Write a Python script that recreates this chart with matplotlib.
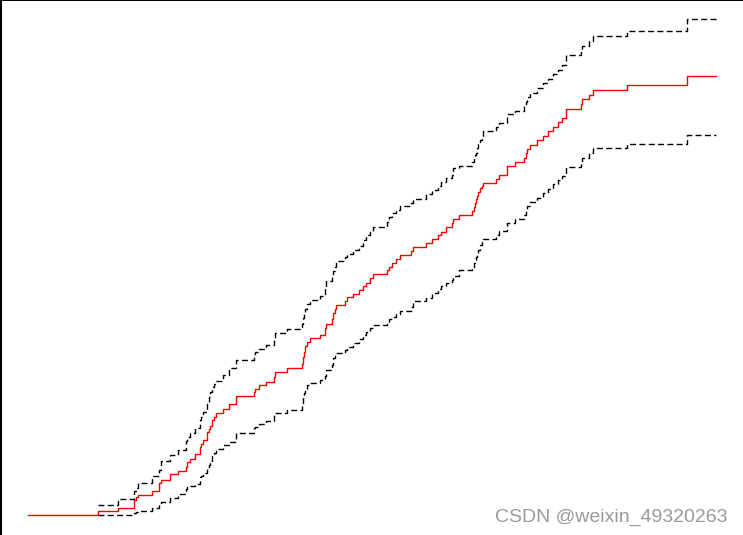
import matplotlib
matplotlib.use("Agg")
import matplotlib.pyplot as plt

# 累積ハザード（推定値）と信頼区間 - 画像から読み取った値
time = [0.0, 7.03, 9.03, 10.57, 10.77, 10.97, 12.43, 13.10, 13.30, 14.20,
        15.03, 15.80, 15.93, 16.15, 16.65, 17.20, 17.30, 17.45, 17.93, 18.05,
        18.20, 18.35, 18.55, 18.77, 19.45, 20.13, 20.75, 22.55, 22.65, 23.13,
        23.75, 24.55, 24.72, 25.87, 27.35, 27.45, 27.57, 27.72, 27.93, 28.22,
        29.20, 29.65, 29.83, 30.43, 30.53, 30.65, 30.80, 31.70, 31.85, 32.45,
        33.13, 33.47, 33.80, 34.20, 34.53, 35.93, 36.13, 36.37, 36.80, 37.20,
        38.33, 38.53, 39.77, 40.37, 40.95, 41.27, 41.83, 42.37, 42.53, 43.13,
        44.35, 44.60, 44.70, 44.80, 44.93, 45.03, 45.23, 45.37, 45.53, 46.75,
        47.13, 47.87, 47.93, 48.70, 49.63, 49.77, 49.87, 50.20, 50.87, 51.53,
        51.97, 52.53, 52.95, 53.43, 53.75, 55.25, 55.43, 56.13, 56.53, 59.87,
        65.93, 68.77]

estimate = [0.000, 0.043, 0.073, 0.153, 0.180, 0.203, 0.243, 0.326, 0.353, 0.410,
            0.438, 0.486, 0.528, 0.558, 0.610, 0.678, 0.713, 0.753, 0.833, 0.863,
            0.893, 0.948, 0.983, 1.023, 1.063, 1.108, 1.188, 1.233, 1.258, 1.303,
            1.328, 1.383, 1.436, 1.470, 1.508, 1.578, 1.633, 1.688, 1.728, 1.768,
            1.803, 1.870, 1.913, 1.960, 2.026, 2.063, 2.103, 2.143, 2.178, 2.213,
            2.253, 2.293, 2.326, 2.370, 2.410, 2.453, 2.480, 2.520, 2.560, 2.603,
            2.643, 2.680, 2.723, 2.760, 2.803, 2.836, 2.880, 2.920, 2.960, 3.003,
            3.040, 3.083, 3.120, 3.158, 3.193, 3.228, 3.268, 3.288, 3.320, 3.360,
            3.398, 3.453, 3.493, 3.530, 3.570, 3.620, 3.660, 3.703, 3.753, 3.793,
            3.843, 3.880, 3.928, 3.970, 4.061, 4.111, 4.160, 4.201, 4.253, 4.300,
            4.396, 4.396]

upper = [0.000, 0.103, 0.160, 0.243, 0.273, 0.323, 0.388, 0.453, 0.543, 0.603,
         0.653, 0.743, 0.783, 0.823, 0.873, 0.953, 0.983, 1.033, 1.133, 1.183,
         1.233, 1.283, 1.313, 1.343, 1.403, 1.468, 1.553, 1.613, 1.633, 1.663,
         1.703, 1.753, 1.823, 1.858, 1.913, 1.968, 2.013, 2.058, 2.113, 2.153,
         2.188, 2.283, 2.343, 2.393, 2.443, 2.483, 2.543, 2.583, 2.613, 2.653,
         2.693, 2.753, 2.803, 2.843, 2.886, 2.936, 2.983, 3.026, 3.053, 3.093,
         3.120, 3.163, 3.210, 3.253, 3.296, 3.336, 3.376, 3.398, 3.470, 3.496,
         3.528, 3.570, 3.598, 3.623, 3.670, 3.713, 3.753, 3.778, 3.843, 3.880,
         3.926, 3.970, 4.013, 4.046, 4.096, 4.136, 4.180, 4.226, 4.276, 4.320,
         4.360, 4.410, 4.453, 4.503, 4.598, 4.643, 4.693, 4.738, 4.793, 4.843,
         4.960, 4.960]

lower = [0.000, 0.000, 0.000, 0.026, 0.033, 0.038, 0.070, 0.120, 0.128, 0.173,
         0.213, 0.260, 0.278, 0.293, 0.313, 0.378, 0.393, 0.423, 0.478, 0.498,
         0.523, 0.593, 0.620, 0.663, 0.703, 0.736, 0.820, 0.870, 0.886, 0.913,
         0.946, 1.003, 1.026, 1.053, 1.123, 1.186, 1.226, 1.263, 1.298, 1.323,
         1.353, 1.393, 1.453, 1.503, 1.570, 1.603, 1.620, 1.653, 1.686, 1.720,
         1.763, 1.803, 1.836, 1.870, 1.903, 1.936, 1.960, 1.978, 2.008, 2.043,
         2.083, 2.138, 2.173, 2.220, 2.260, 2.293, 2.320, 2.353, 2.393, 2.453,
         2.486, 2.518, 2.536, 2.583, 2.603, 2.653, 2.703, 2.733, 2.758, 2.803,
         2.840, 2.888, 2.920, 2.960, 3.003, 3.053, 3.096, 3.130, 3.176, 3.220,
         3.263, 3.310, 3.353, 3.393, 3.480, 3.526, 3.570, 3.623, 3.670, 3.710,
         3.800, 3.800]

fig = plt.figure(figsize=(7.43, 5.35), dpi=100)
ax = fig.add_axes([0, 0, 1, 1])

# 信頼区間（破線）は最初のイベント時刻から
dash = (0, (4.3, 2.4))
ax.plot(time[1:], upper[1:], drawstyle='steps-post', color='black', lw=1.0, linestyle=dash)
ax.plot(time[1:], lower[1:], drawstyle='steps-post', color='black', lw=1.0, linestyle=dash)
# 推定値（赤）
ax.plot(time, estimate, drawstyle='steps-post', color='red', lw=1.0)

ax.set_xlim(-2.8, 71.5)
ax.set_ylim(-0.197, 5.153)
ax.set_xticks([])
ax.set_yticks([])
ax.spines['right'].set_visible(False)
ax.spines['bottom'].set_visible(False)
ax.spines['left'].set_linewidth(2.9)
ax.spines['top'].set_linewidth(1.44)

fig.text(495 / 743, 1 - 522 / 535, 'CSDN @weixin_49320263', fontsize=14,
         color='#9a9a9a', family='Liberation Sans', va='baseline')

fig.savefig('out.png', dpi=100)
